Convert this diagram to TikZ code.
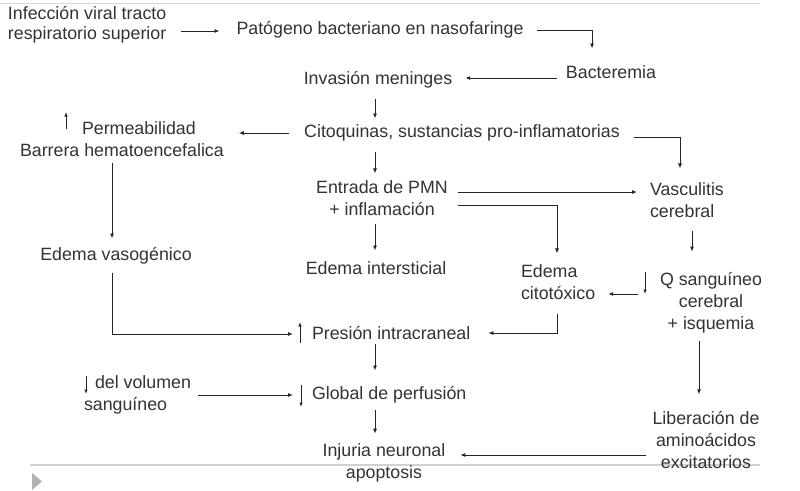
\documentclass[tikz,border=0pt]{standalone}
\usepackage{fontspec}
\setmainfont{Liberation Sans}
\usetikzlibrary{calc,arrows.meta}
\begin{document}
\begin{tikzpicture}[x=1pt,y=-1pt,
  txt/.style={inner sep=0pt, outer sep=0pt, text=black!80, font=\fontsize{17.8}{22}\selectfont, text height=13pt, text depth=4pt},
  mtxt/.style={inner sep=0pt, outer sep=0pt, text=black!80, font=\fontsize{17.8}{22}\selectfont},
  arr/.style={draw=black!85, line width=0.9pt, -{Latex[length=5pt,width=4pt]}},
  marr/.style={draw=black!85, line width=0.8pt, -{Latex[length=4.5pt,width=3.5pt]}}]
\useasboundingbox (0,0) rectangle (800,490);
\fill[white] (0,0) rectangle (800,490);
% player artefacts
\draw[black!15, line width=1pt] (0,3) -- (760,3);
\draw[black!18, line width=1.2pt] (30,465) -- (760,465);
\fill[black!30] (32,473) -- (42,481.5) -- (32,490) -- cycle;

% nodes
\node[mtxt, align=left, anchor=west, font=\fontsize{17.8}{20}\selectfont] (inf) at (8,25) {Infección viral tracto\\respiratorio superior};
\node[txt] (pat) at (380,30) {Patógeno bacteriano en nasofaringe};
\node[txt] (bac) at (611,74) {Bacteremia};
\node[txt] (inv) at (378,80) {Invasión meninges};
\node[txt] (cit) at (462,133) {Citoquinas, sustancias pro-inflamatorias};
\node[mtxt, align=left, anchor=west] (perm) at (20,139) {\hspace{62pt}Permeabilidad\\Barrera hematoencefalica};
\node[mtxt, align=center] (ent) at (382,198) {Entrada de PMN\\+ inflamación};
\node[mtxt, align=left, anchor=west] (vas) at (650,200) {Vasculitis\\cerebral};
\node[txt] (ev) at (116,256) {Edema vasogénico};
\node[txt] (ei) at (376,270) {Edema intersticial};
\node[mtxt, align=left, anchor=west] (cyt) at (521,282) {Edema\\citotóxico};
\node[mtxt, align=center] (q) at (711,303) {Q sanguíneo\\cerebral\\+ isquemia};
\node[txt, anchor=west] (pres) at (312,335) {Presión intracraneal};
\node[txt, anchor=west] (glob) at (312,395) {Global de perfusión};
\node[mtxt, align=left, anchor=west] (vol) at (84,395) {\hspace{11pt}del volumen\\sanguíneo};
\node[mtxt, align=center] (inj) at (384,463) {Injuria neuronal\\apoptosis};
\node[mtxt, align=center] (lib) at (706,440) {Liberación de\\aminoácidos\\excitatorios};

% small up/down arrows in the text
\draw[marr] (66,129) -- (66,112);
\draw[marr] (300,343) -- (300,322);
\draw[marr] (645,272) -- (645,294);
\draw[marr] (301,385) -- (301,407);
\draw[marr] (86,376) -- (86,394);

% connectors
\draw[arr] ($(inf.east|-pat.west)+(15,1)$) -- ($(pat.west)+(-17,1)$);
\draw[arr] ($(pat.east)+(13,0)$) -| ($(bac.north)+(-19,-17)$);
\draw[arr] ($(bac.west)+(-9,4)$) -- ($(inv.east|-bac.west)+(13,4)$);
\draw[arr] ($(inv.south)+(-3,10)$) -- ($(inv.south|-cit.north)+(-3,-6)$);
\draw[arr] ($(cit.west)+(-15,0)$) -- ($(perm.east|-cit.west)+(15,0)$);
\draw[arr] ($(cit.east)+(14,4)$) -| ($(vas.north west)+(30,-14)$);
\draw[arr] ($(cit.south-|ent.north)+(-7,10)$) -- ($(ent.north)+(-7,-7)$);
\draw[arr] ($(ent.east)+(10,-6)$) -- ($(vas.west)+(-13,-8)$);
\draw[arr] ($(ent.east)+(10,7)$) -| ($(cyt.north west)+(36,-11)$);
\draw[arr] ($(ent.south-|ei.north)+(-1,8)$) -- ($(ei.north)+(-1,-11)$);
\draw[arr] ($(vas.south west)+(42,13)$) -- ($(vas.south west|-q.north)+(42,-21)$);
\draw[arr] ($(q.west|-cyt.east)+(-22,12)$) -- ($(cyt.east)+(13,12)$);
\draw[arr] ($(cyt.south west)+(36,14)$) |- ($(pres.east)+(18,-2)$);
\draw[arr] ($(perm.south-|ev.north)+(-4,6)$) -- ($(ev.north)+(-4,-9)$);
\draw[arr] ($(ev.south)+(-4,8)$) |- ($(pres.west)+(-19,-1)$);
\draw[arr] ($(pres.west)+(63,9)$) -- ($(pres.west|-glob.north)+(63,-16)$);
\draw[arr] ($(vol.east)+(7,0)$) -- ($(glob.west)+(-19,0)$);
\draw[arr] ($(glob.south-|inj.north)+(-9,6)$) -- ($(inj.north)+(-9,-10)$);
\draw[arr] ($(q.south)+(-12,8)$) -- ($(q.south|-lib.north)+(-12,-17)$);
\draw[arr] ($(lib.west)+(-7,15)$) -- ($(inj.east|-lib.west)+(15,15)$);
\end{tikzpicture}
\end{document}
